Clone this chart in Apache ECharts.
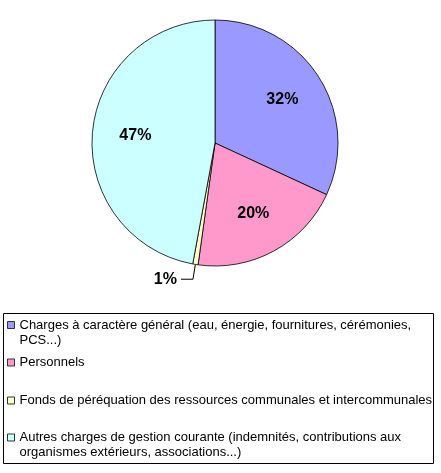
<!DOCTYPE html>
<html>
<head>
<meta charset="utf-8">
<script src="https://cdn.jsdelivr.net/npm/echarts@6/dist/echarts.min.js"></script>
<style>
html,body{margin:0;padding:0;background:#fff;}
#c{width:441px;height:473px;}
</style>
</head>
<body>
<div id="c"></div>
<script>
const categories = [
  "Charges à caractère général (eau, énergie, fournitures, cérémonies, PCS...)",
  "Personnels",
  "Fonds de péréquation des ressources communales et intercommunales",
  "Autres charges de gestion courante (indemnités, contributions aux organismes extérieurs, associations...)"
];
const values = [31.9, 20.3, 0.7, 47.1];
const colors = ["#9999FF", "#FF99CC", "#FFFFCC", "#CCFFFF"];

const FONT = "'Liberation Sans', Arial, sans-serif";
const CX = 215, CY = 143, R = 123;
const LABEL_K = 0.65;
const LEGEND_TEXT_MAX = 420;

const total = values.reduce((a, b) => a + b, 0);
const midAngles = [];
{
  let acc = 0;
  values.forEach(v => { midAngles.push((acc + v / 2) / total * 2 * Math.PI); acc += v; });
}

// word wrap like the spreadsheet legend
const measureCtx = document.createElement('canvas').getContext('2d');
measureCtx.font = "13px " + FONT;
function wrap(text, maxW) {
  const words = text.split(' ');
  const lines = [];
  let cur = '';
  words.forEach(w => {
    const t = cur ? cur + ' ' + w : w;
    if (cur && measureCtx.measureText(t).width > maxW) { lines.push(cur); cur = w; }
    else cur = t;
  });
  if (cur) lines.push(cur);
  return lines.join('\n');
}

const chart = echarts.init(document.getElementById('c'), null, {renderer: 'canvas'});

const legendTops = [317.5, 355, 393, 430];
const multiLine = [true, false, false, true];

const legends = categories.map((name, i) => ({
  data: [name],
  left: 7,
  top: legendTops[i],
  padding: 0,
  orient: 'vertical',
  selectedMode: false,
  icon: multiLine[i] ? 'path://M0,0h7v7h-7zM0,22' : 'rect',
  itemWidth: 7,
  itemHeight: multiLine[i] ? 22 : 7,
  itemStyle: {borderColor: '#333', borderWidth: 1},
  formatter: n => wrap(n, LEGEND_TEXT_MAX),
  textStyle: {
    fontFamily: FONT, fontSize: 13, color: '#000', lineHeight: 15
  }
}));

const option = {
  backgroundColor: '#fff',
  animation: false,
  legend: legends,
  graphic: [{
    type: 'rect',
    shape: {x: 3.5, y: 313.5, width: 430, height: 150},
    style: {fill: 'none', stroke: '#000', lineWidth: 1},
    z: -1
  }],
  series: [{
    type: 'pie',
    center: [CX, CY],
    radius: R,
    startAngle: 90,
    clockwise: true,
    avoidLabelOverlap: false,
    data: categories.map((n, i) => ({
      name: n,
      value: values[i],
      itemStyle: {color: colors[i]},
      label: values[i] < 5 ? {position: 'outside'} : {position: 'inside'},
      labelLine: {show: values[i] < 5}
    })),
    itemStyle: {borderColor: '#000', borderWidth: 0.8},
    label: {
      show: true,
      formatter: p => Math.round(p.percent) + '%',
      fontFamily: FONT, fontSize: 16, fontWeight: 'bold', color: '#000',
      distanceToLabelLine: 4
    },
    labelLine: {length: 15, length2: 12, lineStyle: {color: '#000', width: 1}},
    labelLayout: function (p) {
      const i = p.dataIndex;
      if (values[i] < 5) return {};
      const a = midAngles[i];
      return {
        x: CX + LABEL_K * R * Math.sin(a),
        y: CY - LABEL_K * R * Math.cos(a),
        align: 'center',
        verticalAlign: 'middle'
      };
    },
    emphasis: {disabled: true}
  }]
};
chart.setOption(option);
</script>
</body>
</html>
